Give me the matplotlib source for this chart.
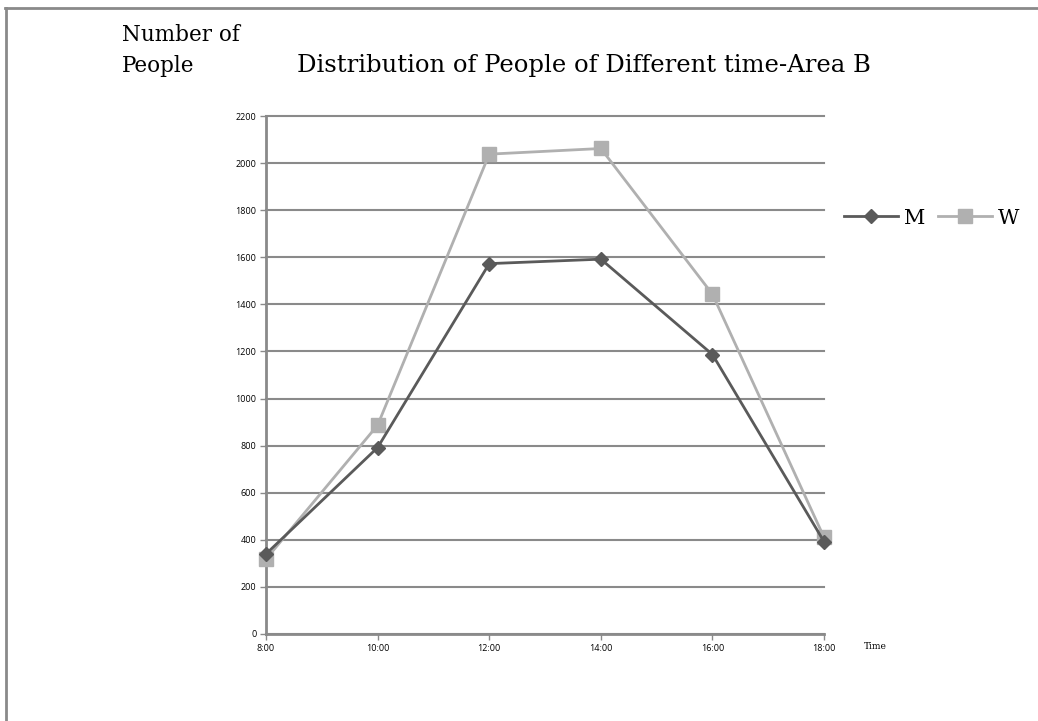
import matplotlib.pyplot as plt
from matplotlib.lines import Line2D

times = ['8:00', '10:00', '12:00', '14:00', '16:00', '18:00']
men = [340, 792, 1573, 1592, 1187, 392]
women = [318, 887, 2038, 2062, 1443, 410]
yticks = list(range(0, 2201, 200))

fig = plt.figure(figsize=(10.38, 7.21), dpi=100)
ax = fig.add_axes([0.2563, 0.1207, 0.5376, 0.7184])

x = list(range(len(times)))
ax.plot(x, men, color='#5a5a5a', lw=2, marker='D', ms=7, label='M', zorder=4, clip_on=False)
ax.plot(x, women, color='#b0b0b0', lw=2, marker='s', ms=10, label='W', zorder=3, clip_on=False)

ax.set_xlim(0, len(times) - 1)
ax.set_ylim(0, 2200)
ax.set_xticks(x)
ax.set_xticklabels(times, fontsize=6.5, family='Open Sans')
ax.set_yticks(yticks)
ax.set_yticklabels([str(v) for v in yticks], fontsize=6.5, family='Open Sans')
ax.grid(axis='y', color='#8a8a8a', lw=1.5)
for gl in ax.get_ygridlines():
    gl.set_clip_on(False)
ax.set_axisbelow(True)
for s in ['top', 'right']:
    ax.spines[s].set_visible(False)
for s in ['left', 'bottom']:
    ax.spines[s].set_color('#8a8a8a')
    ax.spines[s].set_linewidth(2)
ax.tick_params(axis='both', color='#8a8a8a', width=1, length=4, pad=3)

ax.legend(loc='center left', bbox_to_anchor=(1.02, 0.803), ncol=2, frameon=False,
          prop={'family': 'DejaVu Serif', 'size': 15}, handlelength=2.6,
          handletextpad=0.3, columnspacing=0.6, borderaxespad=0)

fig.text(0.1175, 0.951, 'Number of', family='DejaVu Serif', fontsize=15.5,
         va='center', ha='left')
fig.text(0.1175, 0.909, 'People', family='DejaVu Serif', fontsize=15.5,
         va='center', ha='left')
fig.text(0.286, 0.909, 'Distribution of People of Different time-Area B',
         family='DejaVu Serif', fontsize=17.5, va='center', ha='left')
fig.text(0.832, 0.104, 'Time', family='DejaVu Serif', fontsize=6.5, va='center', ha='left')

# outer frame: top and left edges
fig.add_artist(Line2D([0.005, 1.0], [0.9895, 0.9895], color='#8a8a8a', lw=2))
fig.add_artist(Line2D([0.0058, 0.0058], [0.0, 0.9895], color='#8a8a8a', lw=2))

fig.savefig('out.png', dpi=100)
